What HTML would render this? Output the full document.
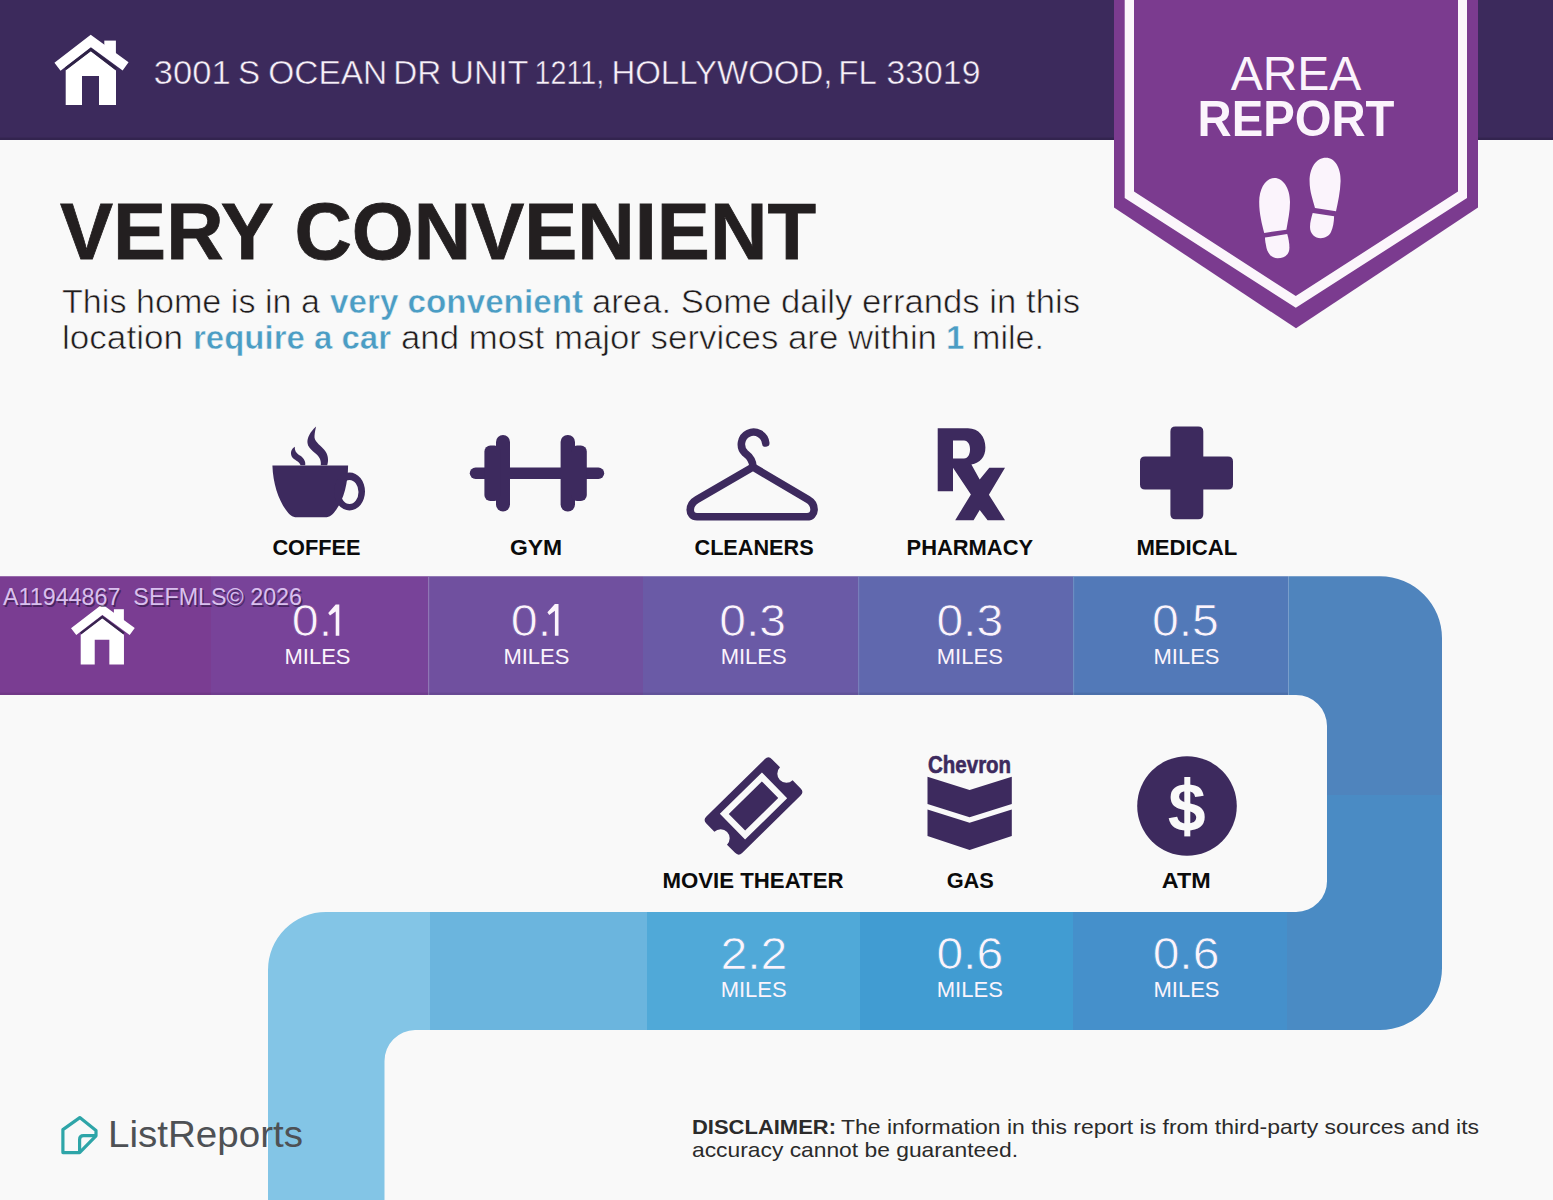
<!DOCTYPE html>
<html><head><meta charset="utf-8">
<style>
html,body{margin:0;padding:0;background:#f9f9f9;width:1553px;height:1200px;overflow:hidden}
svg{display:block;position:absolute;left:0;top:0}
text{font-family:"Liberation Sans",sans-serif}
.lbl{font-weight:700;font-size:22px;fill:#0b0b0b}
.num{font-size:45px;fill:#fbf4fc}
.mi{font-size:22px;fill:#fbf4fc}
</style></head><body>
<svg width="1553" height="1200" viewBox="0 0 1553 1200">
<defs>
<clipPath id="snake">
<path d="M-10,576.3 H1380 A62,62 0 0 1 1442,638.3 V968 A62,62 0 0 1 1380,1030 H415 A31,31 0 0 0 384.5,1061 V1210 H268 V970 A58,58 0 0 1 326,912 H1296 A31,31 0 0 0 1327,880 V726 A31,31 0 0 0 1296,695 H-10 Z"/>
</clipPath>
<g id="house">
<path d="M57.5,66.7 L90.8,41 L125.6,66.4" fill="none" stroke="#fff" stroke-width="10" stroke-linejoin="miter" stroke-miterlimit="10"/>
<rect x="104.3" y="40.6" width="11.6" height="15" fill="#fff"/>
<path d="M65.7,105 V70.3 L90.8,51.2 L116,70.4 V105 H99 V76 H82 V105 Z" fill="#fff"/>
<path d="M65.7,68.6 L90.8,49.4 L116,68.6" fill="none" stroke="#2b2142" stroke-width="2.6" stroke-opacity="0.85"/>
</g>
</defs>
<rect x="0" y="0" width="1553" height="1200" fill="#f9f9f9"/>
<!-- header -->
<rect x="0" y="0" width="1553" height="140" fill="#3c2a5c"/>
<rect x="0" y="137.6" width="1553" height="2.4" fill="#33244f"/>
<use href="#house"/>
<g font-size="34" fill="#f7f0f8" stroke="#3c2a5c" stroke-width="0.5">
<text x="153.8" y="83.5" textLength="76.8" lengthAdjust="spacingAndGlyphs">3001</text>
<text x="238.1" y="83.5" textLength="22.1" lengthAdjust="spacingAndGlyphs">S</text>
<text x="268.3" y="83.5" textLength="118.9" lengthAdjust="spacingAndGlyphs">OCEAN</text>
<text x="393.3" y="83.5" textLength="48.0" lengthAdjust="spacingAndGlyphs">DR</text>
<text x="449.5" y="83.5" textLength="78.8" lengthAdjust="spacingAndGlyphs">UNIT</text>
<text x="534.5" y="83.5" textLength="69.7" lengthAdjust="spacingAndGlyphs">1211,</text>
<text x="611.4" y="83.5" textLength="221.1" lengthAdjust="spacingAndGlyphs">HOLLYWOOD,</text>
<text x="838.3" y="83.5" textLength="38.4" lengthAdjust="spacingAndGlyphs">FL</text>
<text x="886.6" y="83.5" textLength="93.8" lengthAdjust="spacingAndGlyphs">33019</text>
</g>

<!-- snake band -->
<g clip-path="url(#snake)">
<rect x="-10" y="570" width="221" height="130" fill="#7a3d92"/>
<rect x="211" y="570" width="217" height="130" fill="#784399"/>
<rect x="428" y="570" width="215" height="130" fill="#70509f"/>
<rect x="643" y="570" width="215" height="130" fill="#6a5aa6"/>
<rect x="858" y="570" width="215" height="130" fill="#6068ae"/>
<rect x="1073" y="570" width="215.5" height="130" fill="#5279b8"/>
<rect x="1288.5" y="570" width="160" height="225" fill="#4f84bd"/>
<rect x="1287" y="795" width="160" height="240" fill="#4a8bc4"/>
<rect x="1073" y="905" width="214" height="130" fill="#4590cb"/>
<rect x="860" y="905" width="213" height="130" fill="#419cd2"/>
<rect x="647" y="905" width="213" height="130" fill="#50a9d8"/>
<rect x="430" y="905" width="217" height="130" fill="#6bb5de"/>
<rect x="260" y="905" width="170" height="300" fill="#83c5e6"/>
<rect x="428" y="577" width="1.2" height="118" fill="#ffffff" opacity="0.22"/>
<rect x="858" y="577" width="1.2" height="118" fill="#ffffff" opacity="0.15"/>
<rect x="1073" y="577" width="1.2" height="118" fill="#ffffff" opacity="0.15"/>
<rect x="-10" y="692.6" width="1298" height="2.2" fill="#000000" opacity="0.08"/>
</g>

<!-- banner -->
<polygon points="1114,0 1478,0 1478,207.6 1296,328.3 1114,207.6" fill="#7b3b8f"/>
<polygon points="1124.7,0 1467,0 1467,198 1295.8,307.8 1124.7,198 1124.7,0 1134,0 1134,191.5 1295.8,296.1 1458,191.5 1458,0 1134,0" fill="#fbf6fb" fill-rule="evenodd"/>
<text x="1296" y="89.5" font-size="48" fill="#fbf4fc" text-anchor="middle">AREA</text>
<text x="1296" y="135.8" font-size="50" font-weight="700" fill="#fbf4fc" text-anchor="middle" textLength="197" lengthAdjust="spacingAndGlyphs">REPORT</text>
<g fill="#fbf4fc">
<path d="M1326,157.7 C1335,157.7 1341,168 1340.6,181 C1340.3,192 1338,202 1336,211.3 L1315,207.9 C1313,200 1309.6,192 1309.6,181 C1309.6,168 1316,157.7 1326,157.7 Z"/>
<path d="M1312.7,212.9 L1334.1,216.3 C1334,222 1333,228 1331,232 C1329,236 1325,238.2 1320.7,238.2 C1315,238.2 1310,234 1310,227 C1310,222 1311.5,217 1312.7,212.9 Z"/>
<path d="M1274.5,178 C1283,178 1290,188 1290,202 C1290,212 1288,220 1286.4,229.8 L1264.2,232.9 C1262,224 1259.2,214 1259.2,202 C1259.2,188 1266,178 1274.5,178 Z"/>
<path d="M1265,237.5 L1287.2,234 C1289,240 1290,247 1289,251 C1287.5,256 1283,258.2 1277.6,258.2 C1272,258.2 1268,254 1266.5,248 C1265.7,244 1265,240 1265,237.5 Z"/>
</g>

<!-- heading -->
<text x="60" y="258.6" font-size="80" font-weight="700" fill="#231f20" stroke="#231f20" stroke-width="0.8" textLength="756" lengthAdjust="spacingAndGlyphs">VERY CONVENIENT</text>
<g font-size="33" fill="#1f1b1c" stroke="#f9f9f9" stroke-width="0.6">
<text x="62" y="313.4" textLength="258" lengthAdjust="spacingAndGlyphs">This home is in a</text>
<text x="330" y="313.4" font-weight="700" fill="#4b9dc4" stroke-width="0.5" textLength="253" lengthAdjust="spacingAndGlyphs">very convenient</text>
<text x="592" y="313.4" textLength="488" lengthAdjust="spacingAndGlyphs">area. Some daily errands in this</text>
<text x="62" y="348.7" textLength="121" lengthAdjust="spacingAndGlyphs">location</text>
<text x="193" y="348.7" font-weight="700" fill="#4b9dc4" stroke-width="0.5" textLength="198" lengthAdjust="spacingAndGlyphs">require a car</text>
<text x="401" y="348.7" textLength="536" lengthAdjust="spacingAndGlyphs">and most major services are within</text>
<text x="946" y="348.7" font-weight="700" fill="#4b9dc4" stroke-width="0.5">1</text>
<text x="972" y="348.7" textLength="72" lengthAdjust="spacingAndGlyphs">mile.</text>
</g>

<!-- icons row 1 -->
<g fill="#3d2a5e">
<!-- coffee -->
<path d="M272.4,465.5 H348.1 C348,483 344,499 336,510 C333,514.5 330,517.3 325,517.3 H297 C292,517.3 289,514.5 286,510 C278,499 273,483 272.4,465.5 Z"/>
<path d="M349.5,472.5 A15.5,19 0 1 1 349.5,510.5 A15.5,19 0 1 1 349.5,472.5 Z M349.5,480 A9,12 0 1 0 349.5,504 A9,12 0 1 0 349.5,480 Z" fill-rule="evenodd"/>
<path d="M316.1,426.5 C310,432 307,438 307.5,443 C308,450 318,453 320,459 C321,462 321,464 320.7,465.2 L327.2,465.2 C329,460 328,454 324,449.5 C319,444 314,441 314.5,436 C314.8,432 315.5,429 316.1,426.5 Z"/>
<path d="M294.8,446.7 C291,449 290,453 292,457 C294,460 299,461 300.6,465.2 L305.2,465.2 C306,461 303,457 299,455 C296,453 294.5,450 294.8,446.7 Z"/>
<!-- gym -->
<rect x="469.8" y="467.5" width="134.4" height="11.5" rx="5.75"/>
<rect x="496" y="435" width="14" height="76.6" rx="7"/>
<rect x="560.6" y="435" width="14.4" height="76.6" rx="7"/>
<rect x="484.4" y="445.5" width="16" height="55.5" rx="6"/>
<rect x="571" y="445.5" width="15.8" height="55.5" rx="6"/>
<!-- hanger -->
<path d="M765.7,443 A12.2,12.2 0 1 0 745,453 Q753,459 753,467" fill="none" stroke="#3d2a5e" stroke-width="7.6" stroke-linecap="round"/>
<path d="M753,467 L697,499.5 C688,504.5 688,516.8 697,516.8 L807,516.8 C816,516.8 816.5,504.5 808,499.5 Z" fill="none" stroke="#3d2a5e" stroke-width="7.6" stroke-linejoin="round"/>
<!-- rx -->
<path d="M937.7,428.3 H967.9 C979,428.3 985.4,437 985.4,447.5 C985.4,457 980,463 971.4,464.6 L979.7,479.5 L989.3,467.7 H1005 L988.9,494.8 L1005,520.2 H987.6 L979.7,510.1 L973.6,520.2 H955.2 L970.9,494.4 L953,467.7 V491.3 H937.7 Z M953,440.6 H964 C968,440.6 970,445 970,449.5 C970,454 968,458.5 964,458.5 H953 Z" fill-rule="evenodd"/>
<!-- cross -->
<path d="M1175.4,426.6 H1198.3 Q1203.3,426.6 1203.3,431.6 V456.6 H1228 Q1233,456.6 1233,461.6 V484.6 Q1233,489.6 1228,489.6 H1203.3 V514.3 Q1203.3,519.3 1198.3,519.3 H1175.4 Q1170.4,519.3 1170.4,514.3 V489.6 H1145 Q1140,489.6 1140,484.6 V461.6 Q1140,456.6 1145,456.6 H1170.4 V431.6 Q1170.4,426.6 1175.4,426.6 Z"/>
</g>
<text class="lbl" x="272.4" y="555" textLength="88.2" lengthAdjust="spacingAndGlyphs">COFFEE</text>
<text class="lbl" x="510.0" y="555" textLength="52.2" lengthAdjust="spacingAndGlyphs">GYM</text>
<text class="lbl" x="694.5" y="555" textLength="119.1" lengthAdjust="spacingAndGlyphs">CLEANERS</text>
<text class="lbl" x="906.6" y="555" textLength="126.5" lengthAdjust="spacingAndGlyphs">PHARMACY</text>
<text class="lbl" x="1136.4" y="555" textLength="100.8" lengthAdjust="spacingAndGlyphs">MEDICAL</text>

<!-- band row 1 content -->
<use href="#house" transform="translate(24.2,574.3) scale(0.86)"/>
<text class="num" stroke="#784399" stroke-width="0.7" x="291.8" y="635.8" textLength="40.4" lengthAdjust="spacingAndGlyphs">0.</text>
<path d="M335.7,604.6 H339.3 V635.8 H335.7 V611.5 L330,615.6 L328.2,612.9 Z" fill="#fbf4fc"/>
<text class="mi" x="317.5" y="664.3" text-anchor="middle">MILES</text>
<text class="num" stroke="#70509f" stroke-width="0.7" x="510.7" y="635.8" textLength="40.4" lengthAdjust="spacingAndGlyphs">0.</text>
<path d="M554.9,603.9 H558.5 V635.8 H554.9 V610.8 L549.2,614.9 L547.4,612.2 Z" fill="#fbf4fc"/>
<text class="mi" x="536.4" y="664.3" text-anchor="middle">MILES</text>
<text class="num" stroke="#6a5aa6" stroke-width="0.7" x="752.7" y="635.8" text-anchor="middle" textLength="66.7" lengthAdjust="spacingAndGlyphs">0.3</text>
<text class="mi" x="753.7" y="664.3" text-anchor="middle">MILES</text>
<text class="num" stroke="#6068ae" stroke-width="0.7" x="969.8" y="635.8" text-anchor="middle" textLength="66.7" lengthAdjust="spacingAndGlyphs">0.3</text>
<text class="mi" x="969.8" y="664.3" text-anchor="middle">MILES</text>
<text class="num" stroke="#5279b8" stroke-width="0.7" x="1185.4" y="635.8" text-anchor="middle" textLength="67" lengthAdjust="spacingAndGlyphs">0.5</text>
<text class="mi" x="1186.5" y="664.3" text-anchor="middle">MILES</text>

<!-- icons row 2 -->
<g fill="#3d2a5e">
<g transform="rotate(-44.5 753.5 806)">
<path d="M712.5,780.5 H794.5 Q799.5,780.5 799.5,785.5 V797 A9,9 0 0 0 799.5,815 V826.5 Q799.5,831.5 794.5,831.5 H712.5 Q707.5,831.5 707.5,826.5 V815 A9,9 0 0 0 707.5,797 V785.5 Q707.5,780.5 712.5,780.5 Z"/>
<rect x="727.15" y="791.15" width="52.7" height="29.7" fill="none" stroke="#f9f9f9" stroke-width="6.3"/>
</g>
<text x="969.6" y="773" font-size="23" font-weight="700" text-anchor="middle" textLength="83" lengthAdjust="spacingAndGlyphs" stroke="#3d2a5e" stroke-width="0.6">Chevron</text>
<polygon points="927.5,776.7 969.6,789.9 1011.8,776.7 1011.8,804 969.6,817.2 927.5,804"/>
<polygon points="927.5,809.6 969.6,822.7 1011.8,809.6 1011.8,835.9 969.6,850 927.5,835.9"/>
<circle cx="1187" cy="806" r="49.8"/>
</g>
<text x="1187" y="829.5" font-size="65" font-weight="700" fill="#f9f9f9" text-anchor="middle" textLength="40" lengthAdjust="spacingAndGlyphs">S</text>
<rect x="1184.3" y="777" width="6" height="59.4" fill="#f9f9f9"/>
<text class="lbl" x="662.5" y="888" textLength="181.0" lengthAdjust="spacingAndGlyphs">MOVIE THEATER</text>
<text class="lbl" x="946.7" y="888" textLength="47.2" lengthAdjust="spacingAndGlyphs">GAS</text>
<text class="lbl" x="1161.8" y="888" textLength="48.8" lengthAdjust="spacingAndGlyphs">ATM</text>

<!-- band row 2 content -->
<text class="num" stroke="#50a9d8" stroke-width="0.7" x="753.9" y="969" text-anchor="middle" textLength="67" lengthAdjust="spacingAndGlyphs">2.2</text>
<text class="mi" x="753.7" y="997.2" text-anchor="middle">MILES</text>
<text class="num" stroke="#419cd2" stroke-width="0.7" x="969.8" y="969" text-anchor="middle" textLength="66.7" lengthAdjust="spacingAndGlyphs">0.6</text>
<text class="mi" x="969.8" y="997.2" text-anchor="middle">MILES</text>
<text class="num" stroke="#4590cb" stroke-width="0.7" x="1186" y="969" text-anchor="middle" textLength="66.7" lengthAdjust="spacingAndGlyphs">0.6</text>
<text class="mi" x="1186.5" y="997.2" text-anchor="middle">MILES</text>

<!-- watermark -->
<text x="3" y="605" font-size="24" fill="#2a1640" opacity="0.6" transform="translate(1.5,1.5)" textLength="299" lengthAdjust="spacingAndGlyphs">A11944867&#160;&#160;SEFMLS© 2026</text>
<text x="3" y="605" font-size="24" fill="#d9c0ee" textLength="299" lengthAdjust="spacingAndGlyphs">A11944867&#160;&#160;SEFMLS© 2026</text>

<!-- logo -->
<path d="M79.8,1117.6 L96,1130.4 V1135.8 L79.6,1152.6 H62.9 V1129.6 Z" fill="none" stroke="#2ea5a8" stroke-width="3.2" stroke-linejoin="round"/>
<path d="M95,1135.6 H83.5 Q79.6,1135.6 79.6,1139.5 V1152" fill="none" stroke="#2ea5a8" stroke-width="3.2" stroke-linejoin="round"/>
<text x="108" y="1147.3" font-size="37" fill="#4e5155" textLength="195" lengthAdjust="spacingAndGlyphs">ListReports</text>

<!-- disclaimer -->
<g font-size="21" fill="#2b2b2b">
<text x="692" y="1133.8" font-weight="700" textLength="144" lengthAdjust="spacingAndGlyphs">DISCLAIMER:</text>
<text x="841" y="1133.8" textLength="638" lengthAdjust="spacingAndGlyphs">The information in this report is from third-party sources and its</text>
<text x="692" y="1156.5" textLength="326" lengthAdjust="spacingAndGlyphs">accuracy cannot be guaranteed.</text>
</g>
</svg>
</body></html>
